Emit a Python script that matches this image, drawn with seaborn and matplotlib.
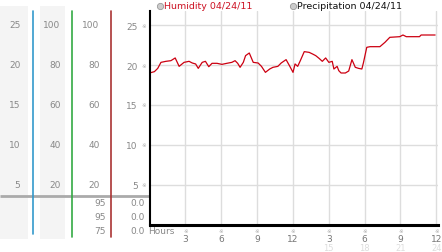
import numpy as np
import pandas as pd
import matplotlib
matplotlib.use("Agg")
import matplotlib.pyplot as plt
import matplotlib.transforms as mtransforms
from matplotlib.patches import Rectangle
import seaborn as sns

# ---------------- data ----------------
hours = [0.00, 0.41, 0.69, 0.96, 1.38, 1.79, 2.15, 2.48, 2.89, 3.31, 3.58, 3.86,
         4.08, 4.41, 4.68, 4.96, 5.23, 5.65, 6.06, 6.47, 6.89, 7.16, 7.38, 7.58,
         7.85, 8.04, 8.35, 8.68, 9.09, 9.37, 9.70, 10.06, 10.33, 10.74, 11.02, 11.43,
         11.71, 12.01, 12.18, 12.40, 12.62, 12.95, 13.36, 13.64, 13.91, 14.19, 14.46, 14.74,
         15.01, 15.29, 15.43, 15.70, 15.84, 16.03, 16.39, 16.67, 16.94, 17.22, 17.49, 17.77,
         17.91, 18.18, 18.46, 19.28, 19.70, 20.11, 20.94, 21.21, 21.49, 22.59, 22.73, 23.90]
humidity = [19.00, 19.17, 19.58, 20.33, 20.46, 20.54, 20.88, 19.83, 20.33, 20.46, 20.25, 20.13,
            19.58, 20.33, 20.46, 19.79, 20.21, 20.21, 20.08, 20.21, 20.33, 20.54, 20.21, 19.71,
            20.33, 21.17, 21.50, 20.33, 20.25, 19.83, 19.08, 19.50, 19.71, 19.83, 20.25, 20.67,
            19.92, 19.08, 20.13, 19.83, 20.54, 21.67, 21.58, 21.38, 21.17, 20.83, 20.46, 20.88,
            20.33, 20.46, 19.50, 19.83, 19.29, 19.00, 19.00, 19.25, 20.67, 19.71, 19.58, 19.50,
            20.33, 22.21, 22.29, 22.29, 22.83, 23.46, 23.54, 23.75, 23.54, 23.54, 23.75, 23.75]

y_ticks = [25, 20, 15, 10, 5]
col1_labels = ["25", "20", "15", "10", "5"]
col2_labels = ["100", "80", "60", "40", "20"]
col3_labels = ["100", "80", "60", "40", "20"]
col4_labels = ["25", "20", "15", "10", "5"]
col3_bottom = ["95", "95", "75"]
col4_bottom = ["0.0", "0.0", "0.0"]

x_ticks = [3, 6, 9, 12, 15, 18, 21, 24]
x_labels = ["3", "6", "9", "12", "3", "6", "9", "12"]
x_labels2 = ["", "", "", "", "15", "18", "21", "24"]

legend_labels = ["Humidity 04/24/11", "Precipitation 04/24/11"]

df = pd.DataFrame({"hours": hours, "humidity": humidity})

# ---------------- figure ----------------
sns.set_style("white")
plt.rcParams["font.family"] = ["DejaVu Sans"]
W, H = 442, 253
fig = plt.figure(figsize=(W / 100, H / 100), dpi=100)


def rect(x0, y0, w, h):
    return [x0 / W, 1 - (y0 + h) / H, w / W, h / H]


# background overlay axes in pixel coordinates
bg = fig.add_axes([0, 0, 1, 1], zorder=0)
bg.set_xlim(0, W)
bg.set_ylim(H, 0)
bg.axis("off")

ax = fig.add_axes(rect(149.5, 12, 288, 214), zorder=2)
ax.patch.set_alpha(0)
sns.lineplot(data=df, x="hours", y="humidity", ax=ax, color="#cc0011",
             linewidth=0.9, estimator=None)
ax.set_xlim(0, 24.1)
ax.set_ylim(0, 26.75)
ax.set_xlabel("")
ax.set_ylabel("")
ax.set_yticks(y_ticks)
ax.set_yticklabels(col4_labels)
ax.set_xticks(x_ticks)
ax.set_xticklabels(x_labels)
ax.grid(True, color="#dddddd", linewidth=1.0)
ax.set_axisbelow(True)
for s in ["top", "right"]:
    ax.spines[s].set_visible(False)
ax.spines["left"].set_color("black")
ax.spines["left"].set_linewidth(1.5)
ax.spines["bottom"].set_color("black")
ax.spines["bottom"].set_linewidth(2.2)
ax.tick_params(axis="y", length=0, pad=8.5, labelsize=6.5, labelcolor="#888888")
ax.tick_params(axis="x", length=0, pad=6.3, labelsize=6.5, labelcolor="#777777")

# small markers next to ticks
ytrans = mtransforms.offset_copy(ax.get_yaxis_transform(), fig=fig, x=-3.5, y=0, units="dots")
for v in y_ticks:
    ax.text(0, v, "※", transform=ytrans, ha="right", va="center", fontsize=4,
            color="#aaaaaa", clip_on=False)
xtrans = mtransforms.offset_copy(ax.get_xaxis_transform(), fig=fig, x=0, y=-5.5, units="dots")
xtrans2 = mtransforms.offset_copy(ax.get_xaxis_transform(), fig=fig, x=0, y=-23, units="dots")
for v, lab2 in zip(x_ticks, x_labels2):
    ax.text(v, 0, "※", transform=xtrans, ha="center", va="center", fontsize=4,
            color="#aaaaaa", clip_on=False)
    if lab2:
        ax.text(v, 0, lab2, transform=xtrans2, ha="center", va="center", fontsize=6,
                color="#dddddd", clip_on=False)
htrans = mtransforms.offset_copy(ax.transAxes, fig=fig, x=-1, y=-6, units="dots")
ax.text(0, 0, "Hours", transform=htrans, ha="left", va="center", fontsize=6.5,
        color="#888888", clip_on=False)

# ---------------- left panel ----------------
fig.canvas.draw()
to_bg = ax.transData + bg.transData.inverted()


def ypix(v):
    return to_bg.transform((0, v))[1]


bg.add_patch(Rectangle((0, 7), 28, 233, facecolor="#f4f4f4", edgecolor="none"))
bg.add_patch(Rectangle((40, 7), 25, 233, facecolor="#f4f4f4", edgecolor="none"))
bg.plot([0, 149], [197, 197], color="#aaaaaa", linewidth=2, solid_capstyle="butt")
bg.plot([33, 33], [12, 235], color="#3399cc", linewidth=1.2)
bg.plot([72, 72], [12, 238], color="#33aa44", linewidth=1.2)
bg.plot([111, 111], [12, 238], color="#aa3333", linewidth=1.2)

for v, l1, l2, l3 in zip(y_ticks, col1_labels, col2_labels, col3_labels):
    yy = ypix(v)
    bg.text(20.5, yy, l1, ha="right", va="center", fontsize=6.5, color="#888888")
    bg.text(60.5, yy, l2, ha="right", va="center", fontsize=6.5, color="#888888")
    bg.text(99.5, yy, l3, ha="right", va="center", fontsize=6.5, color="#888888")

rows_y = [204, 218, 232]
for yy, a, b in zip(rows_y, col3_bottom, col4_bottom):
    bg.text(105.5, yy, a, ha="right", va="center", fontsize=6.5, color="#888888")
    bg.text(144.5, yy, b, ha="right", va="center", fontsize=6.5, color="#888888")

# ---------------- legend ----------------
leg_colors = ["#cc1122", "#111111"]
leg_x = [160, 293]
for x0, lab, c in zip(leg_x, legend_labels, leg_colors):
    bg.plot([x0], [6.5], marker="o", markersize=4.5, markerfacecolor="#cccccc",
            markeredgecolor="#999999", markeredgewidth=0.6)
    bg.text(x0 + 4, 6.5, lab, ha="left", va="center", fontsize=6.8, color=c)

fig.savefig("out.png", dpi=100)
